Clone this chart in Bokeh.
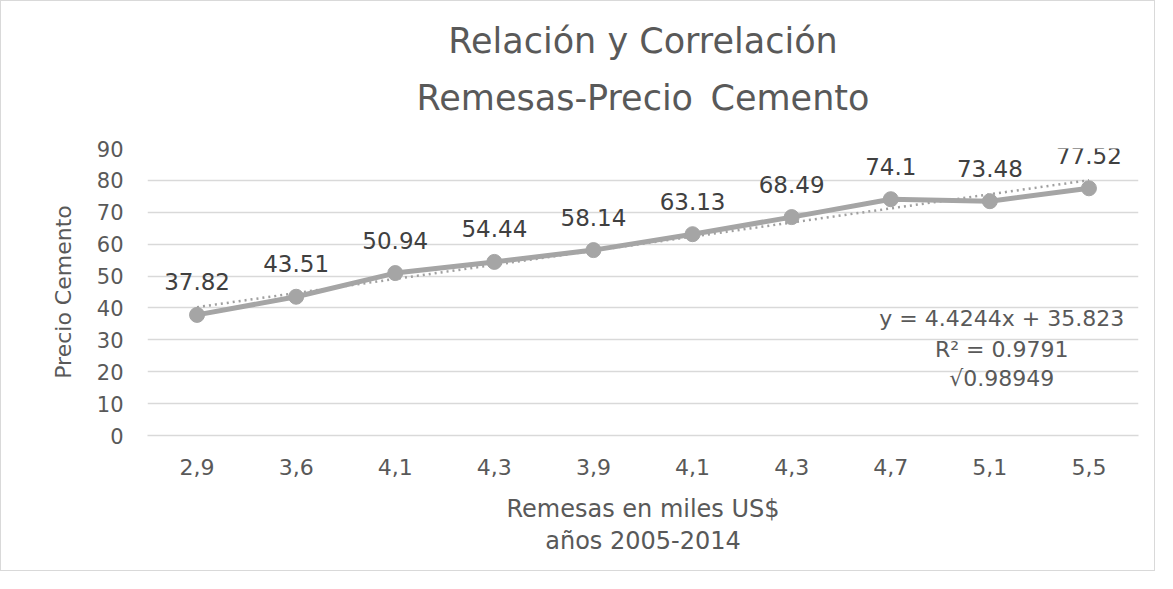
from bokeh.plotting import figure
from bokeh.models import ColumnDataSource, Title, FixedTicker, Range1d, Label
from bokeh.embed import file_html
from bokeh.resources import INLINE
from bokeh.core.properties import value

# ---- data ----
remesas_labels = ["2,9", "3,6", "4,1", "4,3", "3,9", "4,1", "4,3", "4,7", "5,1", "5,5"]
precio_cemento = [37.82, 43.51, 50.94, 54.44, 58.14, 63.13, 68.49, 74.1, 73.48, 77.52]
trend_slope = 4.4244
trend_intercept = 35.823
r_squared = 0.9791
r_value = 0.98949
y_ticks = [0, 10, 20, 30, 40, 50, 60, 70, 80, 90]
title_lines = ["Relación y Correlación", "Remesas-Precio\u2002Cemento"]

FONT = "DejaVu Sans"
LINE_COL = "#a5a5a5"
TEXT_COL = "#595959"
GRID_COL = "#d9d9d9"

idx = list(range(1, len(precio_cemento) + 1))
src = ColumnDataSource(dict(x=idx, y=precio_cemento,
                            lab=[f"{v:g}" for v in precio_cemento]))
trend_x = [idx[0], idx[-1]]
trend_y = [trend_slope * xv + trend_intercept for xv in trend_x]

p = figure(width=1155, height=571, output_backend="svg", toolbar_location=None,
           x_range=Range1d(0.5, len(idx) + 0.5), y_range=Range1d(0, 90),
           min_border_left=146, min_border_right=18, min_border_top=147,
           min_border_bottom=137, title=None)
p.styles = {"border": "1px solid #d9d9d9"}
p.outline_line_color = None
p.background_fill_color = "white"
p.border_fill_color = "white"

# titles (first added sits closest to the plot)
p.add_layout(Title(text=title_lines[1], align="center", text_font=FONT,
                   text_font_size="35px", text_font_style="normal",
                   text_color=TEXT_COL, standoff=61), "above")
p.add_layout(Title(text=title_lines[0], align="center", text_font=FONT,
                   text_font_size="35px", text_font_style="normal",
                   text_color=TEXT_COL, standoff=-31), "above")

# grid
p.xgrid.grid_line_color = None
p.ygrid.grid_line_color = GRID_COL
p.ygrid.grid_line_width = 1.5
p.ygrid.ticker = FixedTicker(ticks=y_ticks)

# axes
p.yaxis.ticker = FixedTicker(ticks=y_ticks)
p.yaxis.axis_line_color = None
p.yaxis.major_tick_line_color = None
p.yaxis.major_tick_out = 0
p.yaxis.major_tick_in = 0
p.yaxis.minor_tick_line_color = None
p.yaxis.major_label_text_font = FONT
p.yaxis.major_label_text_font_size = "21px"
p.yaxis.major_label_text_color = TEXT_COL
p.yaxis.major_label_standoff = 24
p.yaxis.axis_label = "Precio Cemento"
p.yaxis.axis_label_text_font = FONT
p.yaxis.axis_label_text_font_size = "22px"
p.yaxis.axis_label_text_font_style = "normal"
p.yaxis.axis_label_text_color = TEXT_COL
p.yaxis.axis_label_standoff = 18

p.xaxis.ticker = FixedTicker(ticks=idx)
p.xaxis.major_label_overrides = {i: lab for i, lab in zip(idx, remesas_labels)}
p.xaxis.axis_line_color = GRID_COL
p.xaxis.axis_line_width = 1.5
p.xaxis.major_tick_line_color = None
p.xaxis.major_tick_out = 0
p.xaxis.major_tick_in = 0
p.xaxis.minor_tick_line_color = None
p.xaxis.major_label_text_font = FONT
p.xaxis.major_label_text_font_size = "22px"
p.xaxis.major_label_text_color = TEXT_COL
p.xaxis.major_label_standoff = 23
p.xaxis.axis_label = "Remesas en miles US$"
p.xaxis.axis_label_text_font = FONT
p.xaxis.axis_label_text_font_size = "24px"
p.xaxis.axis_label_text_font_style = "normal"
p.xaxis.axis_label_text_color = TEXT_COL
p.xaxis.axis_label_standoff = 17
p.add_layout(Title(text="años 2005-2014", align="center", text_font=FONT,
                   text_font_size="24px", text_font_style="normal",
                   text_color=TEXT_COL, standoff=-2), "below")

# trend line (dotted)
p.line(trend_x, trend_y, line_color="#a0a0a0", line_width=2.5, line_dash="2 4")

# series
p.line("x", "y", source=src, line_color=LINE_COL, line_width=5)
p.scatter("x", "y", source=src, size=15, fill_color=LINE_COL, line_color=LINE_COL)

# data labels
p.text("x", "y", text="lab", source=src, text_font=value(FONT), text_font_size="23px",
       text_color="#404040", text_align="center", text_baseline="alphabetic", y_offset=-33)

# trend equation
eq_lines = [f"y = {trend_slope}x + {trend_intercept}", f"R² = {r_squared}", f"√{r_value}"]
eq_y = [36.7, 27.0, 17.9]
for t, yy in zip(eq_lines, eq_y):
    p.add_layout(Label(x=9.12, y=yy, text=t, text_font=FONT, text_font_size="22px",
                       text_color=TEXT_COL, text_align="center", text_baseline="middle"))

open("out.html", "w").write(file_html(p, INLINE))
